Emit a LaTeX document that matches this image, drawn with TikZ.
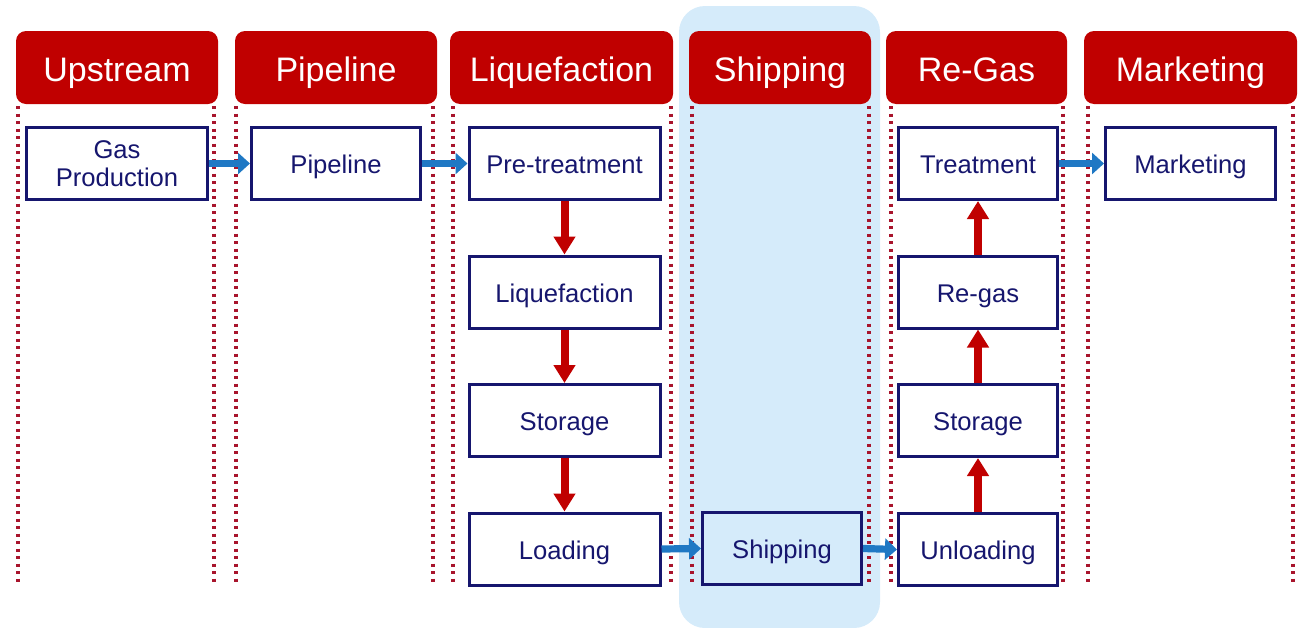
\documentclass[tikz,border=0pt]{standalone}
\usepackage{fontspec}
\setmainfont{Liberation Sans}
\usetikzlibrary{arrows.meta}
\definecolor{hdrred}{HTML}{C00000}
\definecolor{dotred}{HTML}{A8142C}
\definecolor{navy}{HTML}{16166E}
\definecolor{bgblue}{HTML}{D5EBFA}
\definecolor{arrblue}{HTML}{1F78C4}
\tikzset{
  hdr/.style={fill=hdrred, rounded corners=5pt, inner sep=0pt, minimum height=36.5pt,
    text=white, font=\fontsize{17}{20}\selectfont, text height=14.2pt, text depth=0pt},
  stagebox/.style={draw=navy, line width=1.5pt, fill=white, inner sep=0pt,
    minimum height=36pt, text=navy, font=\fontsize{12.8}{15.5}\selectfont},
  capbox/.style={stagebox, text height=10.2pt, text depth=0pt},
  guide/.style={dotred, line width=1.6pt, dash pattern=on 1.5pt off 2.25pt},
  bluearr/.style={arrblue, line width=3.6pt, -{Triangle[length=6pt,width=10.5pt]}},
  redarr/.style={hdrred, line width=4pt, -{Triangle[length=9pt,width=10.5pt]}}
}
\begin{document}
\begin{tikzpicture}[x=0.5pt,y=-0.5pt]
\useasboundingbox (0,0) rectangle (1300,627);
% shipping highlight band
\begin{scope}
\clip (0,0) rectangle (1300,627);
\fill[bgblue, rounded corners=13pt] (679,6) rectangle (880,628);
\end{scope}
% column guides
\foreach \gx in {18,214,236,433,453,671,692,869,891,1063,1088,1293}
  \draw[guide] (\gx,106) -- (\gx,583);
% headers
\node[hdr, minimum width=101pt] (hUp)   at (117,67.5)   {Upstream};
\node[hdr, minimum width=101pt] (hPipe) at (336,67.5)   {Pipeline};
\node[hdr, minimum width=111.5pt] (hLiq) at (561.5,67.5) {Liquefaction};
\node[hdr, minimum width=91pt] (hShip)  at (780,67.5)   {Shipping};
\node[hdr, minimum width=90.5pt] (hRe)  at (976.5,67.5) {Re-Gas};
\node[hdr, minimum width=106.5pt] (hMkt) at (1190.5,67.5) {Marketing};
% stage boxes
\node[stagebox, minimum width=90.5pt, align=center] (gas) at (117,163.5) {Gas\\[-1.5pt]Production};
\node[capbox, minimum width=84.5pt] (pipe) at (336,163.5) {Pipeline};
\node[capbox, minimum width=95.5pt] (pre)  at (564.5,163.5) {Pre-treatment};
\node[capbox, minimum width=95.5pt] (liq)  at (564.5,292)   {Liquefaction};
\node[capbox, minimum width=95.5pt] (sto1) at (564.5,420.5) {Storage};
\node[capbox, minimum width=95.5pt] (load) at (564.5,549)   {Loading};
\node[capbox, minimum width=79.5pt, fill=none] (ship) at (782,548.5) {Shipping};
\node[capbox, minimum width=79.5pt] (unl)  at (978,549.5) {Unloading};
\node[capbox, minimum width=79.5pt] (sto2) at (978,420.5) {Storage};
\node[capbox, minimum width=79.5pt] (rg)   at (978,292)   {Re-gas};
\node[capbox, minimum width=79.5pt] (trt)  at (978,163.5) {Treatment};
\node[capbox, minimum width=85pt] (mkt)  at (1190.5,163.5) {Marketing};
% horizontal flow
\draw[bluearr] (gas.east) -- (pipe.west);
\draw[bluearr] (pipe.east) -- (pre.west);
\draw[bluearr] (load.east) -- (ship.west);
\draw[bluearr] (ship.east) -- (unl.west);
\draw[bluearr] (trt.east) -- (mkt.west);
% vertical flow
\draw[redarr] (pre.south) -- (liq.north);
\draw[redarr] (liq.south) -- (sto1.north);
\draw[redarr] (sto1.south) -- (load.north);
\draw[redarr] (unl.north) -- (sto2.south);
\draw[redarr] (sto2.north) -- (rg.south);
\draw[redarr] (rg.north) -- (trt.south);
\end{tikzpicture}
\end{document}
